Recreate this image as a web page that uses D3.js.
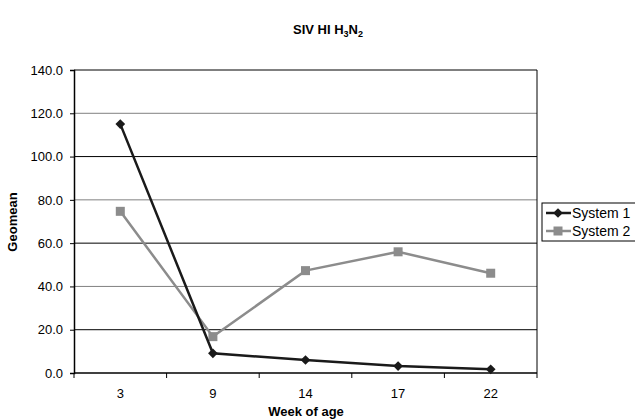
<!DOCTYPE html>
<html>
<head>
<meta charset="utf-8">
<script src="https://cdn.jsdelivr.net/npm/d3@7"></script>
<style>
  body { margin: 0; background: #fff; }
  text { font-family: "Liberation Sans", Arial, sans-serif; }
</style>
</head>
<body>
<div id="chart"></div>
<script>
// Data
const weeks = ["3", "9", "14", "17", "22"];
const system1 = [115.0, 9.1, 6.0, 3.2, 1.7];
const system2 = [74.7, 16.8, 47.3, 56.0, 46.1];
const yTicks = [0, 20, 40, 60, 80, 100, 120, 140];
const seriesNames = ["System 1", "System 2"];

const svg = d3.select("#chart")
    .append("svg")
        .attr("width", 635)
        .attr("height", 420);

const plotLeft = 74, plotRight = 537, plotTop = 70, plotBottom = 373;

const xScale = d3.scaleBand()
    .domain(weeks)
    .range([plotLeft, plotRight]);

const yScale = d3.scaleLinear()
    .domain([0, 140])
    .range([plotBottom, plotTop]);

// Title with subscripts
const title = svg.append("text")
    .attr("x", 328)
    .attr("y", 34)
    .attr("text-anchor", "middle")
    .style("font-size", "13px")
    .style("font-weight", "bold");
title.append("tspan").text("SIV HI H");
title.append("tspan").text("3").attr("dy", 3).style("font-size", "9px");
title.append("tspan").text("N").attr("dy", -3);
title.append("tspan").text("2").attr("dy", 3).style("font-size", "9px");

// Gridlines (alternating grey / black as in the picture)
svg.append("g")
    .selectAll("line")
    .data(yTicks.filter(d => d > 0 && d < 140))
    .join("line")
        .attr("x1", plotLeft)
        .attr("x2", plotRight)
        .attr("y1", d => yScale(d))
        .attr("y2", d => yScale(d))
        .attr("stroke", d => (d / 20) % 2 === 1 ? "#000" : "#808080")
        .attr("stroke-width", 1);

// Plot border (top and right)
svg.append("path")
    .attr("d", `M${plotLeft},${plotTop}H${plotRight}V${plotBottom}`)
    .attr("fill", "none")
    .attr("stroke", "#000")
    .attr("stroke-width", 1);

// Y axis
const yAxis = svg.append("g")
    .attr("transform", `translate(${plotLeft},0)`)
    .call(d3.axisLeft(yScale)
        .tickValues(yTicks)
        .tickFormat(d3.format(".1f"))
        .tickSize(4)
        .tickPadding(7));
yAxis.select(".domain").attr("stroke", "#000").attr("stroke-width", 1.5);
yAxis.selectAll("text").style("font-size", "13px").style("font-family", "Liberation Sans, Arial, sans-serif");

// X axis with ticks at band boundaries
const xAxis = svg.append("g")
    .attr("transform", `translate(0,${plotBottom})`);
xAxis.append("line")
    .attr("x1", plotLeft)
    .attr("x2", plotRight)
    .attr("stroke", "#000")
    .attr("stroke-width", 1.5);
xAxis.selectAll(".tick")
    .data(weeks.map(w => xScale(w)).concat([plotRight]))
    .join("line")
        .attr("class", "tick")
        .attr("x1", d => d)
        .attr("x2", d => d)
        .attr("y1", 0)
        .attr("y2", 5)
        .attr("stroke", "#000");
xAxis.selectAll(".lbl")
    .data(weeks)
    .join("text")
        .attr("class", "lbl")
        .attr("x", d => xScale(d) + xScale.bandwidth() / 2)
        .attr("y", 25)
        .attr("text-anchor", "middle")
        .style("font-size", "13px")
        .text(d => d);

// Axis titles
svg.append("text")
    .attr("x", 306)
    .attr("y", 416)
    .attr("text-anchor", "middle")
    .style("font-size", "13px")
    .style("font-weight", "bold")
    .text("Week of age");

svg.append("text")
    .attr("transform", "translate(17,222) rotate(-90)")
    .attr("text-anchor", "middle")
    .style("font-size", "13px")
    .style("font-weight", "bold")
    .text("Geomean");

const cx = (d, i) => xScale(weeks[i]) + xScale.bandwidth() / 2;
const line = d3.line()
    .x(cx)
    .y(d => yScale(d));

// System 2 (grey squares)
svg.append("path")
    .datum(system2)
    .attr("d", line)
    .attr("fill", "none")
    .attr("stroke", "#8c8c8c")
    .attr("stroke-width", 2.5);
svg.append("g")
    .selectAll("rect")
    .data(system2)
    .join("rect")
        .attr("x", (d, i) => cx(d, i) - 4.5)
        .attr("y", d => yScale(d) - 4.5)
        .attr("width", 9)
        .attr("height", 9)
        .attr("fill", "#8c8c8c");

// System 1 (black diamonds)
const diamond = d3.symbol().type(d3.symbolDiamond2).size(60);
svg.append("path")
    .datum(system1)
    .attr("d", line)
    .attr("fill", "none")
    .attr("stroke", "#1a1a1a")
    .attr("stroke-width", 2.5);
svg.append("g")
    .selectAll("path")
    .data(system1)
    .join("path")
        .attr("d", diamond)
        .attr("transform", (d, i) => `translate(${cx(d, i)},${yScale(d)})`)
        .attr("fill", "#1a1a1a");

// Legend
const legend = svg.append("g");
legend.append("rect")
    .attr("x", 542)
    .attr("y", 203)
    .attr("width", 100)
    .attr("height", 38)
    .attr("fill", "#fff")
    .attr("stroke", "#000");

const item = legend.selectAll(".item")
    .data(seriesNames)
    .join("g")
        .attr("class", "item")
        .attr("transform", (d, i) => `translate(0,${213 + i * 18})`);
item.append("line")
    .attr("x1", 546)
    .attr("x2", 571)
    .attr("stroke", (d, i) => i === 0 ? "#1a1a1a" : "#8c8c8c")
    .attr("stroke-width", 2.5);
item.filter((d, i) => i === 0).append("path")
    .attr("d", diamond)
    .attr("transform", "translate(558,0)")
    .attr("fill", "#1a1a1a");
item.filter((d, i) => i === 1).append("rect")
    .attr("x", 553.5)
    .attr("y", -4.5)
    .attr("width", 9)
    .attr("height", 9)
    .attr("fill", "#8c8c8c");
item.append("text")
    .attr("x", 572)
    .attr("y", 5)
    .style("font-size", "14px")
    .text(d => d);
</script>
</body>
</html>
